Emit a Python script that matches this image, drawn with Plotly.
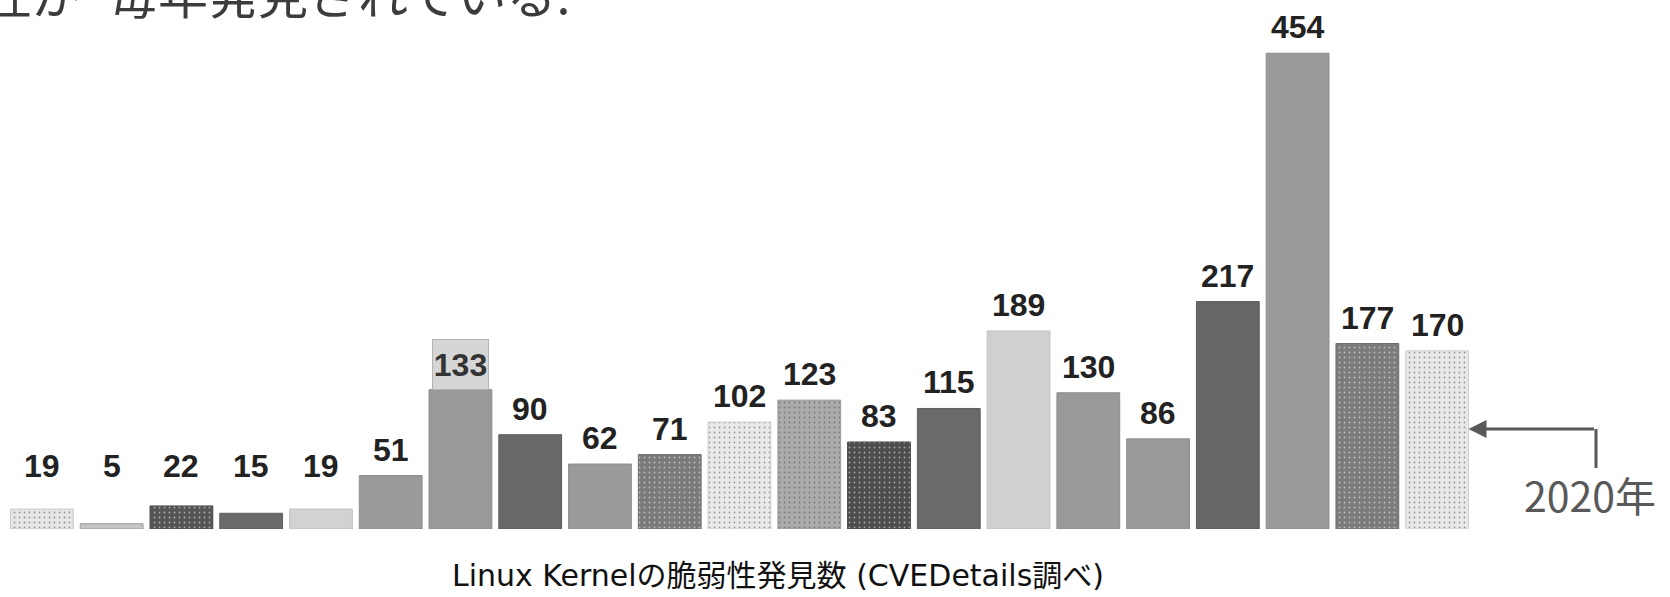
import plotly.graph_objects as go

# ---- data ----
years = list(range(2000, 2021))
counts = [19, 5, 22, 15, 19, 51, 133, 90, 62, 71, 102, 123, 83, 115, 189, 130, 86, 217, 454, 177, 170]
bar_colors = ["#e6e6e6", "#c4c4c4", "#555555", "#6a6a6a", "#d2d2d2", "#9a9a9a", "#999999",
              "#686868", "#9a9a9a", "#7a7a7a", "#e9e9e9", "#ababab", "#4d4d4d", "#6a6a6a",
              "#d0d0d0", "#999999", "#9a9a9a", "#676767", "#9a9a9a", "#7b7b7b", "#e8e8e8"]
bar_lines = ["#c8c8c8", "#9a9a9a", "#4a4a4a", "#5e5e5e", "#c0c0c0", "#8e8e8e", "#8c8c8c",
             "#5c5c5c", "#8e8e8e", "#6e6e6e", "#cfcfcf", "#9e9e9e", "#444444", "#5e5e5e",
             "#c2c2c2", "#8c8c8c", "#8e8e8e", "#5c5c5c", "#8c8c8c", "#6e6e6e", "#d0d0d0"]
textured = [1, 0, 1, 0, 0, 0, 0, 0, 0, 1, 1, 1, 1, 0, 0, 0, 0, 0, 0, 1, 1]
boxed_label_year = 2006
label_floor = 35
caption = "Linux Kernelの脆弱性発見数 (CVEDetails調べ)"
title_part1 = "性が"
title_part2 = "毎年発見されている."
highlight_year = 2020
highlight_text = "2020年"

# ---- layout constants ----
W, H = 1670, 597
ML, MR, MT, MB = 7, 198, 0, 68
PW = W - ML - MR
PH = H - MT - MB
YMAX = PH / 1.048


def px_x(p):
    return (p - ML) / PW


def px_y(p):
    return 1 - (p - MT) / PH


fig = go.Figure()
fig.add_trace(go.Bar(
    x=years, y=counts,
    marker=dict(
        color=bar_colors,
        line=dict(color=bar_lines, width=1),
        pattern=dict(shape=["." if t else "" for t in textured],
                     fgcolor=bar_lines, size=5, solidity=0.1),
    ),
    hoverinfo="x+y",
    showlegend=False,
))

label_font = dict(family="Liberation Sans, Arial", size=32, color="#222222", weight="bold")
annotations = []
for yr, v in zip(years, counts):
    if yr == boxed_label_year:
        annotations.append(dict(
            x=yr, y=v, xref="x", yref="y", text=str(v), showarrow=False,
            yanchor="bottom", xanchor="center", yshift=0,
            width=55, height=49, bgcolor="#d6d6d6", bordercolor="#b4b4b4",
            borderwidth=1, borderpad=0,
            font=dict(label_font, color="#333333"),
        ))
    else:
        annotations.append(dict(
            x=yr, y=max(v, label_floor), xref="x", yref="y", text=str(v), showarrow=False,
            yanchor="bottom", xanchor="center", yshift=6,
            font=label_font,
        ))

# arrow to the 2020 bar
annotations.append(dict(
    x=highlight_year + 0.45, y=px_y(429), xref="x", yref="paper",
    ax=127, ay=0, axref="pixel", ayref="pixel",
    text="", showarrow=True, arrowhead=2, arrowsize=1.2, arrowwidth=3,
    arrowcolor="#595959", standoff=0,
))
annotations.append(dict(
    x=px_x(1590), y=px_y(494), xref="paper", yref="paper",
    text=highlight_text, showarrow=False, xanchor="center", yanchor="middle",
    font=dict(family="Noto Sans CJK JP", size=41, color="#595959"),
))
annotations.append(dict(
    x=px_x(778), y=px_y(575), xref="paper", yref="paper",
    text=caption, showarrow=False, xanchor="center", yanchor="middle",
    font=dict(family="DejaVu Sans, Noto Sans CJK JP", size=30, color="#111111"),
))
annotations.append(dict(
    x=px_x(84), y=1, xref="paper", yref="paper", yshift=8,
    text=title_part1, showarrow=False, xanchor="right", yanchor="middle",
    font=dict(family="Noto Sans CJK JP", size=50, color="#3c3c3c"),
))
annotations.append(dict(
    x=px_x(106), y=1, xref="paper", yref="paper", yshift=8,
    text=title_part2, showarrow=False, xanchor="left", yanchor="middle",
    font=dict(family="Noto Sans CJK JP", size=50, color="#3c3c3c"),
))

shapes = [dict(
    type="line", xref="paper", yref="paper",
    x0=px_x(1596), x1=px_x(1596), y0=px_y(429), y1=px_y(468),
    line=dict(color="#595959", width=3),
)]

fig.update_layout(
    width=W, height=H,
    margin=dict(l=ML, r=MR, t=MT, b=MB),
    paper_bgcolor="white", plot_bgcolor="white",
    bargap=0.1,
    xaxis=dict(range=[years[0] - 0.5, years[-1] + 0.5], visible=False, fixedrange=True),
    yaxis=dict(range=[0, YMAX], visible=False, fixedrange=True),
    annotations=annotations,
    shapes=shapes,
)

fig.write_html("out.html")
